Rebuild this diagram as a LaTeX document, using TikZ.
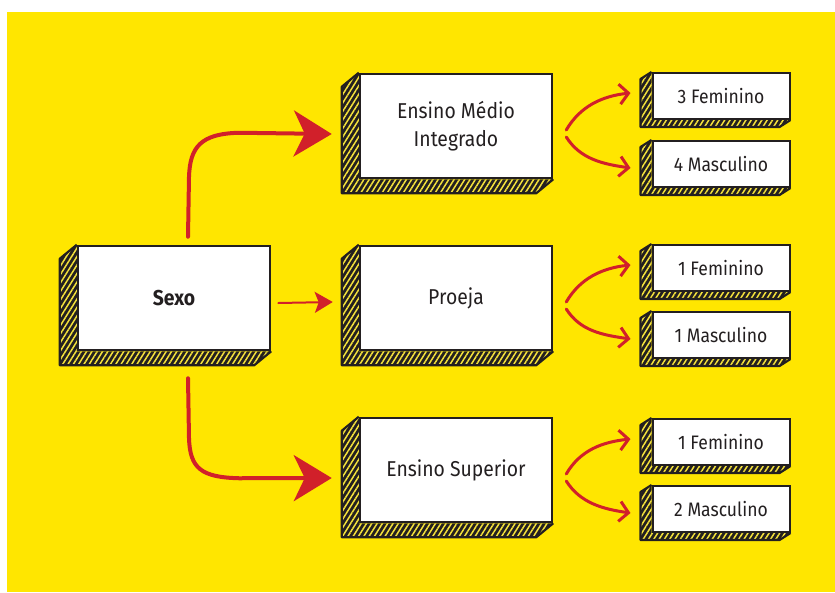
\documentclass[tikz,border=0pt]{standalone}
\usepackage{fontspec}
\setmainfont{Fira Sans}[FakeStretch=0.9]
\usetikzlibrary{arrows.meta,patterns.meta,calc}
\definecolor{bgyellow}{HTML}{FFE600}
\definecolor{hatchy}{HTML}{F4E23C}
\definecolor{ink}{HTML}{231F20}
\definecolor{arrowred}{HTML}{D1202A}
\pgfdeclarelayer{back}
\pgfdeclarelayer{side}
\pgfsetlayers{back,side,main}
\tikzset{
  face/.style={draw=ink, fill=white, line width=2.5pt, text=ink, align=center, inner sep=0pt},
  bigface/.style={face, minimum width=192pt, minimum height=104pt, font=\fontsize{21.5}{28}\selectfont},
  smallface/.style={face, line width=2pt, minimum width=137pt, minimum height=46pt, font=\fontsize{19.5}{22}\selectfont},
  sidefill/.style={fill=ink, postaction={pattern={Lines[angle=58,distance=4.5pt,line width=1.5pt]}, pattern color=hatchy}},
  sideline/.style={draw=ink, line width=2.2pt, line join=round},
  bigarrow/.style={draw=arrowred, line width=4pt, line cap=round, -{Stealth[length=38pt,width=46pt,inset=11pt]}},
  midarrow/.style={draw=arrowred, line width=2pt, line cap=round, -{Stealth[length=18pt,width=21pt,inset=4pt]}},
  smallarrow/.style={draw=arrowred, line width=3pt, line cap=round, -{Straight Barb[length=9pt,width=20pt]}},
}
\newcommand\extrude[3]{%
  \begin{pgfonlayer}{side}
  \path[sidefill] (#1.north west) -- ++(#2,#3) -- ($(#1.south west)+(#2,#3)$) -- ($(#1.south east)+(#2,#3)$) -- (#1.south east) -- (#1.south west) -- cycle;
  \path[sideline] (#1.north west) -- ++(#2,#3) -- ($(#1.south west)+(#2,#3)$) -- ($(#1.south east)+(#2,#3)$) -- (#1.south east);
  \end{pgfonlayer}}
\begin{document}
\begin{tikzpicture}[x=1pt,y=-1pt]
\useasboundingbox (0,0) rectangle (835,592);
\begin{pgfonlayer}{back}
\fill[white] (0,0) rectangle (835,592);
\fill[bgyellow] (7,12) rectangle (835,592);
\end{pgfonlayer}

\node[bigface] (sexo) at (174,298) {\bfseries Sexo};
\node[bigface] (emi) at (456,126) {Ensino Médio\\Integrado};
\node[bigface] (proeja) at (456,298) {Proeja};
\node[bigface] (sup) at (456,470) {Ensino Superior};
\extrude{sexo}{-17}{14}
\extrude{emi}{-17}{14}
\extrude{proeja}{-17}{14}
\extrude{sup}{-17}{14}

\node[smallface] (f1) at (721,96) {3 Feminino};
\node[smallface] (m1) at (721,164) {4 Masculino};
\node[smallface] (f2) at (721,268) {1 Feminino};
\node[smallface] (m2) at (721,335) {1 Masculino};
\node[smallface] (f3) at (721,442) {1 Feminino};
\node[smallface] (m3) at (721,509) {2 Masculino};
\foreach \n in {f1,m1,f2,m2,f3,m3} {\extrude{\n}{-11}{7}}

\draw[bigarrow] ($(sexo.north)+(14,-8)$) -- ++(1,-60) .. controls +(1,-30) and +(-38,1) .. ++(50,-44) -- ($(emi.west)+(-27,8)$);
\draw[bigarrow] ($(sexo.south)+(14,27)$) -- ++(1,60) .. controls +(1,30) and +(-38,-1) .. ++(50,40) -- ($(sup.west)+(-27,8)$);
\draw[midarrow] ($(sexo.east)+(7,5)$) -- ($(proeja.west)+(-26,4)$);

\foreach \src/\fa/\ma in {emi/f1/m1, proeja/f2/m2, sup/f3/m3} {
  \draw[smallarrow] ($(\src.east)+(13,4)$) .. controls +(14,-24) and +(-28,3) .. ($(\fa.west)+(-21,-3)$);
  \draw[smallarrow] ($(\src.east)+(13,11)$) .. controls +(14,22) and +(-28,-4) .. ($(\ma.west)+(-21,4)$);
}
\end{tikzpicture}
\end{document}
